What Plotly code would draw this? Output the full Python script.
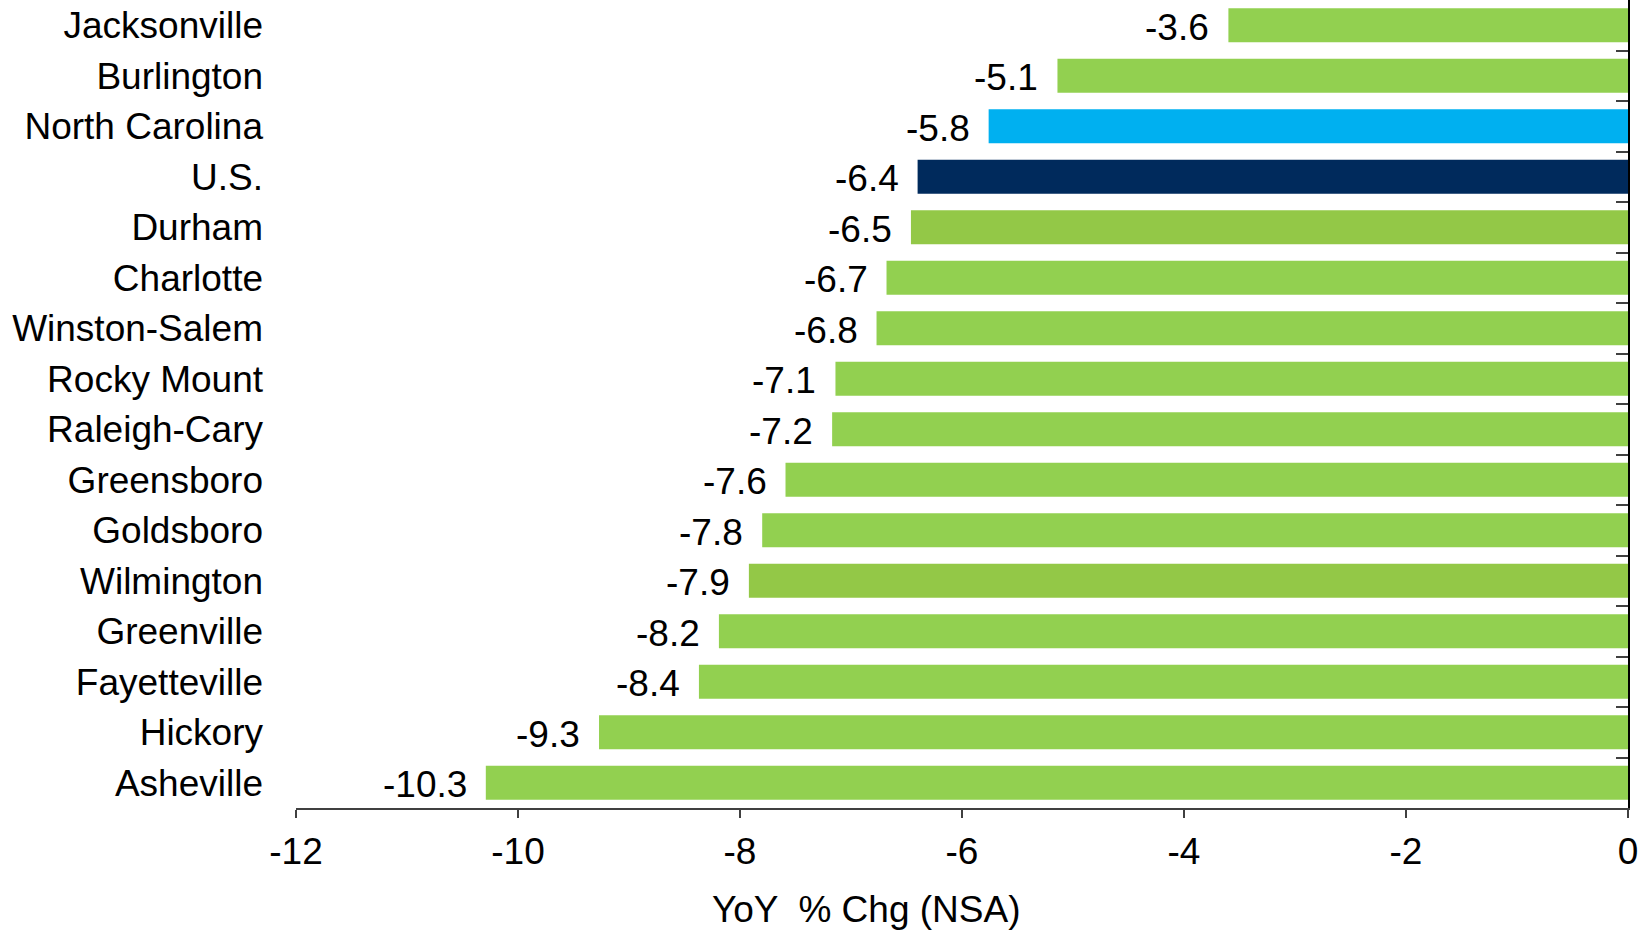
import plotly.graph_objects as go

categories = ["Jacksonville", "Burlington", "North Carolina", "U.S.", "Durham", "Charlotte",
              "Winston-Salem", "Rocky Mount", "Raleigh-Cary", "Greensboro", "Goldsboro",
              "Wilmington", "Greenville", "Fayetteville", "Hickory", "Asheville"]
values = [-3.60, -5.14, -5.76, -6.40, -6.46, -6.68, -6.77, -7.14, -7.17, -7.59, -7.80, -7.92,
          -8.19, -8.37, -9.27, -10.29]
colors = ["#92D050", "#92D050", "#00B0F0", "#002A5C", "#93C847", "#92D050", "#92D050", "#92D050",
          "#92D050", "#92D050", "#92D050", "#93C847", "#92D050", "#92D050", "#92D050", "#92D050"]
x_ticks = [-12, -10, -8, -6, -4, -2, 0]
x_title = "YoY  % Chg (NSA)"

FONT = "Liberation Sans, Arial, sans-serif"
FS = 37

fig = go.Figure()
fig.add_trace(go.Bar(
    x=values, y=categories, orientation="h",
    marker=dict(color=colors, line=dict(width=0)),
    width=0.67, hoverinfo="skip", showlegend=False,
))
# invisible trace to drive the right-hand category axis (ticks between categories)
fig.add_trace(go.Scatter(
    x=values, y=categories, mode="markers", marker=dict(opacity=0),
    yaxis="y2", hoverinfo="skip", showlegend=False,
))

for c, v in zip(categories, values):
    fig.add_annotation(x=v, y=c, xref="x", yref="y", text=f"{v:.1f}",
                       showarrow=False, xanchor="right", yanchor="middle",
                       xshift=-17, yshift=-2, font=dict(family=FONT, size=FS, color="black"))

fig.add_annotation(x=0.428, y=-0.125, xref="paper", yref="paper", text=x_title,
                   showarrow=False, xanchor="center", yanchor="middle",
                   font=dict(family=FONT, size=FS, color="black"))

fig.update_layout(
    width=1646, height=933,
    margin=dict(l=296, r=18, t=0, b=125),
    paper_bgcolor="white", plot_bgcolor="white",
    font=dict(family=FONT, size=FS, color="black"),
    xaxis=dict(range=[-12, 0], tickvals=x_ticks, ticktext=[str(t) for t in x_ticks],
               showgrid=False, zeroline=False, showline=True, linecolor="#404040", linewidth=1.5,
               ticks="outside", ticklen=8, tickcolor="#404040", tickwidth=1.5,
               ticklabelstandoff=2, tickfont=dict(family=FONT, size=FS, color="black")),
    yaxis=dict(type="category", categoryorder="array", categoryarray=categories,
               range=[len(categories) - 0.5, -0.5],
               showgrid=False, zeroline=False, showline=False, ticks="",
               ticklabelstandoff=32, tickfont=dict(family=FONT, size=FS, color="black")),
    yaxis2=dict(type="category", categoryorder="array", categoryarray=categories,
                range=[len(categories) - 0.5, -0.5], overlaying="y", side="right", anchor="x",
                showgrid=False, zeroline=False, showline=True, linecolor="black", linewidth=1.5,
                ticks="inside", tickson="boundaries", ticklen=12, tickcolor="#404040", tickwidth=1.5,
                showticklabels=False),
)

fig.write_html("out.html")
